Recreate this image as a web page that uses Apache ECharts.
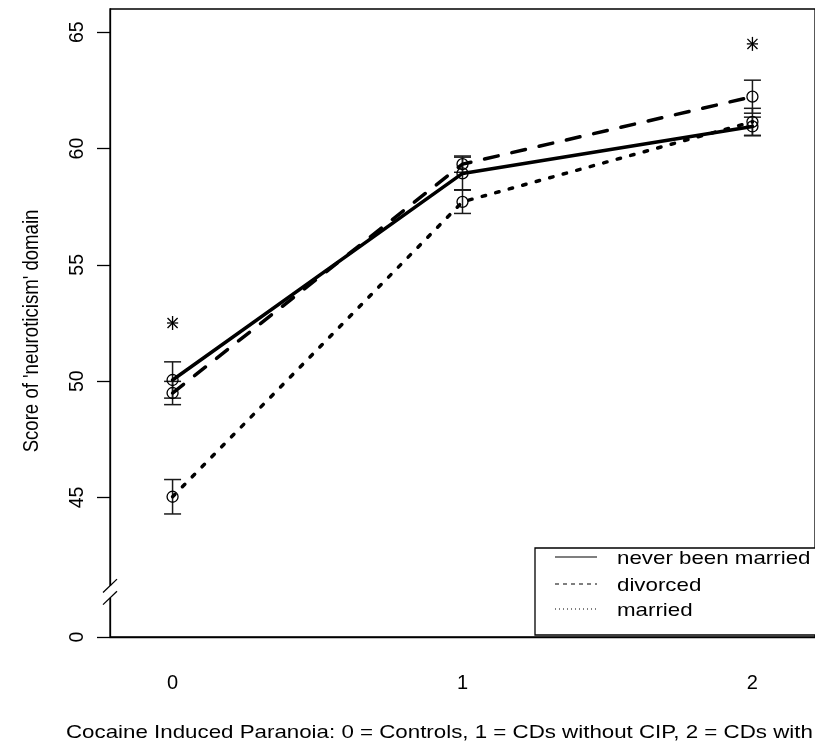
<!DOCTYPE html>
<html><head><meta charset="utf-8">
<script src="https://cdn.jsdelivr.net/npm/echarts@6/dist/echarts.min.js"></script>
<style>html,body{margin:0;padding:0;background:#fff}#c{width:815px;height:748px}</style>
</head><body><div id="c"></div>
<script>
// ---- data ----
const xValues = [0, 1, 2];
const xTickLabels = ['0', '1', '2'];
const seriesNames = ['never been married', 'divorced', 'married'];
const neverMarried = [50.05, 58.93, 60.95];
const neverMarriedErr = [0.78, 0.70, 0.40];
const divorced = [49.49, 59.33, 62.23];
const divorcedErr = [0.50, 0.35, 0.71];
const married = [45.03, 57.71, 61.15];
const marriedErr = [0.74, 0.50, 0.58];
const asteriskX = [0, 2];
const asteriskY = [52.5, 64.5];
const yTickValues = [39, 45, 50, 55, 60, 65];
const yTickLabels = ['0', '45', '50', '55', '60', '65'];
const yMin = 39, yMax = 66;
const xMin = -0.2158, xMax = 2.2158;
const breakLow = 40.68, breakHigh = 41.2;
const xTitle = 'Cocaine Induced Paranoia: 0 = Controls, 1 = CDs without CIP, 2 = CDs with CIP';
const yTitle = "Score of 'neuroticism' domain";

const FONT = 'Liberation Sans, Arial, sans-serif';
const chart = echarts.init(document.getElementById('c'), null, {renderer: 'canvas'});

function errData(v, e) { return xValues.map((x, i) => [x, v[i] - e[i], v[i] + e[i]]); }
function errRender(params, api) {
  const x = api.value(0), lo = api.value(1), hi = api.value(2);
  const pLo = api.coord([x, lo]), pHi = api.coord([x, hi]);
  const w = 8.5;
  const style = {stroke: '#1a1a1a', lineWidth: 1.5, fill: null};
  return {type: 'group', children: [
    {type: 'line', shape: {x1: pLo[0], y1: pLo[1], x2: pHi[0], y2: pHi[1]}, style: style},
    {type: 'line', shape: {x1: pLo[0] - w, y1: pLo[1], x2: pLo[0] + w, y2: pLo[1]}, style: style},
    {type: 'line', shape: {x1: pHi[0] - w, y1: pHi[1], x2: pHi[0] + w, y2: pHi[1]}, style: style}
  ]};
}
function starRender(params, api) {
  const p = api.coord([api.value(0), api.value(1)]);
  const r = 7, d = r * 0.72;
  const style = {stroke: '#000', lineWidth: 1.3, fill: null};
  return {type: 'group', children: [
    {type: 'line', shape: {x1: p[0], y1: p[1] - r, x2: p[0], y2: p[1] + r}, style: style},
    {type: 'line', shape: {x1: p[0] - r * 0.8, y1: p[1], x2: p[0] + r * 0.8, y2: p[1]}, style: style},
    {type: 'line', shape: {x1: p[0] - d, y1: p[1] - d, x2: p[0] + d, y2: p[1] + d}, style: style},
    {type: 'line', shape: {x1: p[0] - d, y1: p[1] + d, x2: p[0] + d, y2: p[1] - d}, style: style}
  ]};
}
function lineSeries(name, vals, dash) {
  return {
    name: name, type: 'line', z: 3,
    data: xValues.map((x, i) => [x, vals[i]]),
    symbol: 'circle', symbolSize: 11,
    itemStyle: {color: 'rgba(0,0,0,0)', borderColor: '#000', borderWidth: 1.3},
    lineStyle: {color: '#000', width: 3.5, type: dash, cap: 'round'},
    emphasis: {disabled: true}
  };
}
function errSeries(name, v, e) {
  return {name: name + ' err', type: 'custom', z: 2, renderItem: errRender,
    encode: {x: 0, y: [1, 2]}, data: errData(v, e)};
}

chart.setOption({
  animation: false,
  backgroundColor: '#fff',
  grid: {left: 110, top: 9, width: 710, height: 628, show: true, borderColor: '#000', borderWidth: 1.3, backgroundColor: 'transparent'},
  xAxis: {
    type: 'value', min: xMin, max: xMax,
    axisLine: {show: true, onZero: false, lineStyle: {color: '#000', width: 1.3}},
    axisTick: {show: false},
    splitLine: {show: false},
    axisLabel: {customValues: xValues, formatter: v => xTickLabels[xValues.indexOf(v)],
      fontSize: 20, color: '#000', margin: 36, fontFamily: FONT}
  },
  yAxis: {
    type: 'value', min: yMin, max: yMax,
    axisLine: {show: true, onZero: false, lineStyle: {color: '#000', width: 1.3}},
    axisTick: {show: true, customValues: yTickValues, length: 13, lineStyle: {color: '#000', width: 1.3}},
    splitLine: {show: false},
    axisLabel: {customValues: yTickValues, formatter: v => yTickLabels[yTickValues.indexOf(v)],
      rotate: 90, fontSize: 19.5, color: '#000', margin: 22, fontFamily: FONT}
  },
  series: [
    errSeries(seriesNames[0], neverMarried, neverMarriedErr),
    errSeries(seriesNames[1], divorced, divorcedErr),
    errSeries(seriesNames[2], married, marriedErr),
    lineSeries(seriesNames[0], neverMarried, 'solid'),
    lineSeries(seriesNames[1], divorced, [14, 14]),
    lineSeries(seriesNames[2], married, [3.5, 10.5]),
    {type: 'custom', z: 3, renderItem: starRender, encode: {x: 0, y: 1},
      data: asteriskX.map((x, i) => [x, asteriskY[i]])}
  ]
});

// axis break, titles, legend
const yHi = chart.convertToPixel({yAxisIndex: 0}, breakHigh);
const yLo = chart.convertToPixel({yAxisIndex: 0}, breakLow);
const ax = 110;
const slash = {stroke: '#000', lineWidth: 1.3};
const legendTop = 548, legendLeft = 535;
const rows = [557, 584, 609];
const dashes = [null, [4, 4], [1, 3]];
const legendEls = [
  {type: 'rect', shape: {x: legendLeft, y: legendTop, width: 320, height: 87}, style: {fill: '#fff', stroke: '#000', lineWidth: 1.3}, z: 10}
];
seriesNames.forEach((n, i) => {
  legendEls.push({type: 'line', shape: {x1: 555, y1: rows[i], x2: 597, y2: rows[i]},
    style: {stroke: '#000', lineWidth: 1.1, lineDash: dashes[i]}, z: 11});
  legendEls.push({type: 'text', x: 617, y: rows[i] + 1.5, scaleX: 1.2, z: 11,
    style: {text: n, fontSize: 18.6, fontFamily: FONT, fill: '#000', align: 'left', verticalAlign: 'middle'}});
});
chart.setOption({graphic: [
  {type: 'rect', shape: {x: ax - 4, y: yHi, width: 8, height: yLo - yHi}, style: {fill: '#fff'}, z: 10},
  {type: 'line', shape: {x1: ax - 7, y1: yHi + 6.7, x2: ax + 7, y2: yHi - 6.7}, style: slash, z: 11},
  {type: 'line', shape: {x1: ax - 7, y1: yLo + 6.7, x2: ax + 7, y2: yLo - 6.7}, style: slash, z: 11},
  {type: 'text', x: 66, y: 733, scaleX: 1.2, z: 11,
    style: {text: xTitle, fontSize: 18.6, fontFamily: FONT, fill: '#000', align: 'left', verticalAlign: 'middle'}},
  {type: 'text', x: 32, y: 331, rotation: Math.PI / 2, scaleY: 1.2, z: 11,
    style: {text: yTitle, fontSize: 18.6, fontFamily: FONT, fill: '#000', align: 'center', verticalAlign: 'middle'}}
].concat(legendEls)});
</script>
</body></html>
